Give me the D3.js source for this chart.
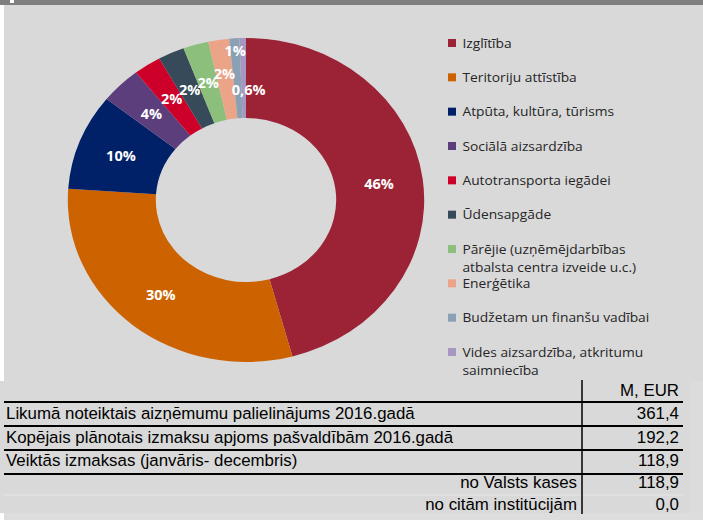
<meta charset="UTF-8">
<script src="https://cdn.jsdelivr.net/npm/d3@7"></script>
<style>
 body { margin:0; background:#fff; }
 svg { display:block; }
 .lbl { font-family:"Open Sans", sans-serif; font-weight:bold; font-size:14.5px; fill:#fff; }
 .leg { font-family:"Open Sans", sans-serif; font-size:13.4px; fill:#262626; }
 .tbl { font-family:"Liberation Sans", Arial, sans-serif; font-size:16.3px; fill:#000; }
</style>
<svg id="chart" width="703" height="520"></svg>
<script>
 // chart data
 var categories = ["Izglītība", "Teritoriju attīstība", "Atpūta, kultūra, tūrisms",
                   "Sociālā aizsardzība", "Autotransporta iegādei", "Ūdensapgāde",
                   "Pārējie (uzņēmējdarbības\natbalsta centra izveide u.c.)", "Enerģētika",
                   "Budžetam un finanšu vadībai", "Vides aizsardzība, atkritumu\nsaimniecība"];
 var shares = [45.8, 30.3, 9.6, 3.7, 2.5, 2.4, 2.3, 1.9, 0.9, 0.6];
 var shareLabels = ["46%", "30%", "10%", "4%", "2%", "2%", "2%", "2%", "1%", "0,6%"];
 var colors = ["#9c2236", "#cc6300", "#002168", "#5c3e7d", "#cc0029",
               "#364a5a", "#8dbf7c", "#eca488", "#8aa0b4", "#a597c0"];

 // table data
 var tableHeader = "M, EUR";
 var rowLabels = ["Likumā noteiktais aizņēmumu palielinājums 2016.gadā",
                  "Kopējais plānotais izmaksu apjoms pašvaldībām 2016.gadā",
                  "Veiktās izmaksas (janvāris- decembris)",
                  "no Valsts kases", "no citām institūcijām"];
 var rowValues = ["361,4", "192,2", "118,9", "118,9", "0,0"];
 var rowIsSub = [false, false, false, true, true];

 var svg = d3.select("#chart");

 // backgrounds
 svg.append("rect").attr("x",4).attr("y",5).attr("width",699).attr("height",376).attr("fill","#d9d9d9");
 svg.append("rect").attr("x",0).attr("y",381).attr("width",690).attr("height",132).attr("fill","#d9d9d9");
 svg.append("rect").attr("x",690).attr("y",381).attr("width",13).attr("height",132).attr("fill","#dcdcdc");
 svg.append("rect").attr("x",4).attr("y",513).attr("width",699).attr("height",7).attr("fill","#dddddd");
 svg.append("rect").attr("x",0).attr("y",0).attr("width",703).attr("height",5).attr("fill","#7f7f7f");
 svg.append("rect").attr("x",10).attr("y",0).attr("width",4).attr("height",3).attr("fill","#fff");

 // donut (slightly stretched horizontally like the original)
 var cx = 246, cy = 200, sx = 1.1, rIn = 82, rOut = 162;
 var pie = d3.pie().sort(null).value(function (d){ return d; });
 var arcs = pie(shares);
 var arc = d3.arc().innerRadius(rIn).outerRadius(rOut);

 var donut = svg.append("g").attr("transform","translate("+cx+","+cy+") scale("+sx+",1)");
 donut.selectAll("path").data(arcs).enter().append("path")
      .attr("d", arc)
      .attr("fill", function (d,i){ return colors[i]; });

 // label placement tweaks for the crowded small slices
 var labelRadius = {7:128, 8:150, 9:111};
 var labelDx = {9:5};
 svg.append("g").selectAll("text").data(arcs).enter().append("text")
    .attr("class","lbl")
    .attr("text-anchor","middle")
    .attr("dominant-baseline","central")
    .attr("transform", function (d,i){
        var r = labelRadius[i] || (rIn+rOut)/2;
        var c = d3.arc().innerRadius(r).outerRadius(r).centroid(d);
        return "translate("+(cx + c[0]*sx + (labelDx[i]||0))+","+(cy + c[1])+")";
    })
    .text(function (d,i){ return shareLabels[i]; });

 // legend
 var legY = d3.scalePoint().domain(d3.range(categories.length)).range([43, 352]);
 var leg = svg.append("g").selectAll("g").data(categories).enter().append("g")
              .attr("transform", function (d,i){ return "translate(448,"+legY(i)+")"; });
 leg.append("rect").attr("x",0).attr("y",-4).attr("width",8).attr("height",8)
    .attr("fill", function (d,i){ return colors[i]; });
 leg.append("text").attr("class","leg").attr("x",14).attr("y",0)
    .attr("transform","scale(1.03,1)")
    .selectAll("tspan").data(function (d){ return d.split("\n"); }).enter().append("tspan")
    .attr("x",14).attr("dy", function (d,j){ return j==0 ? "0.35em" : "18px"; })
    .text(function (d){ return d; });

 // table
 var tX0 = 4, tX1 = 683, tSplit = 582, tsx = 1.035;
 var rowBottoms = [426, 450, 474, 495, 517];
 var rowBase = [419, 443, 466, 488, 510];
 var tbl = svg.append("g");
 function cell(x, y, anchor, s) {
     tbl.append("text").attr("class","tbl")
        .attr("transform","translate("+x+","+y+") scale("+tsx+",1)")
        .attr("text-anchor",anchor).text(s);
 }
 cell(679, 396, "end", tableHeader);
 tbl.append("line").attr("x1",tX0).attr("x2",tX1).attr("y1",402).attr("y2",402)
    .attr("stroke","#000").attr("stroke-width",2);
 rowLabels.forEach(function (lab, i){
     cell(rowIsSub[i] ? 577 : 6, rowBase[i], rowIsSub[i] ? "end" : "start", lab);
     cell(679, rowBase[i], "end", rowValues[i]);
     if (!rowIsSub[i]) {
         tbl.append("line").attr("x1",tX0).attr("x2",tX1).attr("y1",rowBottoms[i]).attr("y2",rowBottoms[i])
            .attr("stroke","#000").attr("stroke-width",2);
     } else if (i < rowLabels.length-1) {
         tbl.append("line").attr("x1",tX0).attr("x2",tX1).attr("y1",rowBottoms[i]).attr("y2",rowBottoms[i])
            .attr("stroke","#e2e2e2").attr("stroke-width",1.5);
     }
 });
 tbl.append("line").attr("x1",tSplit).attr("x2",tSplit).attr("y1",380).attr("y2",514)
    .attr("stroke","#000").attr("stroke-width",1.5);
</script>
